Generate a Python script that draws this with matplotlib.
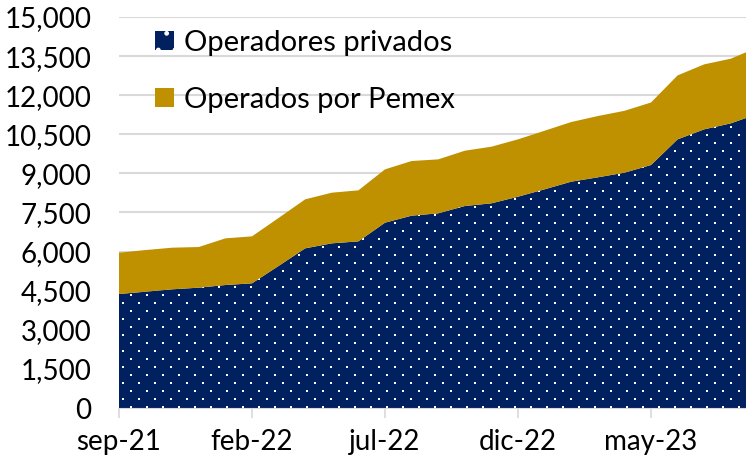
import matplotlib.pyplot as plt
from matplotlib.patches import Patch
from matplotlib.transforms import IdentityTransform
import numpy as np

plt.rcParams['font.family'] = ['Lato', 'DejaVu Sans']
plt.rcParams['hatch.color'] = 'white'
plt.rcParams['hatch.linewidth'] = 1.0

# meses (sep-21 a sep-23)
meses = ['sep-21', 'oct-21', 'nov-21', 'dic-21', 'ene-22', 'feb-22', 'mar-22', 'abr-22',
         'may-22', 'jun-22', 'jul-22', 'ago-22', 'sep-22', 'oct-22', 'nov-22', 'dic-22',
         'ene-23', 'feb-23', 'mar-23', 'abr-23', 'may-23', 'jun-23', 'jul-23', 'ago-23',
         'sep-23']

privados = [4373, 4462, 4553, 4616, 4718, 4783, 5450, 6125, 6317, 6393, 7109, 7378, 7468,
            7748, 7852, 8106, 8390, 8682, 8849, 9027, 9321, 10306, 10690, 10920, 11280]
total = [5957, 6060, 6150, 6176, 6508, 6585, 7290, 8005, 8260, 8350, 9155, 9475, 9538,
         9870, 10024, 10306, 10637, 10970, 11200, 11400, 11720, 12760, 13183, 13400, 13830]
pemex = [t - p for t, p in zip(total, privados)]

azul = '#002060'
oro = '#BF9000'

fig = plt.figure(figsize=(7.46, 4.65), dpi=100)
ax = fig.add_axes([119 / 746, 1 - 408 / 465, 1 - 119 / 746, (408 - 17) / 465])

x = np.arange(len(meses))
polys = ax.stackplot(x, privados, pemex, colors=[azul, oro], zorder=2)
for p in polys:
    p.set_linewidth(0)

# patron de puntos blancos sobre el area de privados (en pixeles)
px, py = [], []
for i, yy in enumerate(np.arange(2, 465, 8)):
    off = 0 if i % 2 == 0 else 8
    for xx in np.arange(119 + off + 4, 746, 16):
        px.append(xx)
        py.append(yy)
dots = ax.scatter(px, py, s=2.2, marker='s', color='white', linewidths=0,
                  transform=IdentityTransform(), zorder=3)
dots.set_clip_path(polys[0].get_paths()[0], ax.transData)

ax.set_xlim(0, 627 / 26.6)
ax.set_ylim(0, 15000)
ax.set_yticks(np.arange(0, 15001, 1500))
ax.set_yticklabels([f'{v:,.0f}' for v in np.arange(0, 15001, 1500)])
ax.set_xticks(x[::5])
ax.set_xticklabels(meses[::5])

ax.grid(axis='y', color='#D9D9D9', linewidth=1.5, zorder=0)
ax.set_axisbelow(True)
for s in ['top', 'right', 'left']:
    ax.spines[s].set_visible(False)
ax.spines['bottom'].set_color('#D9D9D9')
ax.tick_params(axis='y', length=0, pad=20, labelsize=20)
ax.tick_params(axis='x', length=7, width=1.2, color='#D9D9D9', pad=8, labelsize=20)

handles = [Patch(facecolor=azul, edgecolor='white', linewidth=0, hatch='.'),
           Patch(facecolor=oro, linewidth=0)]
ax.legend(handles, ['Operadores privados', 'Operados por Pemex'],
          loc='upper left', bbox_to_anchor=(155 / 746, 1 - 30 / 465),
          bbox_transform=fig.transFigure, frameon=False, fontsize=21,
          handlelength=0.65, handleheight=0.65, handletextpad=0.35, labelspacing=1.05,
          borderpad=0, borderaxespad=0)

fig.savefig('out.png', dpi=100)
